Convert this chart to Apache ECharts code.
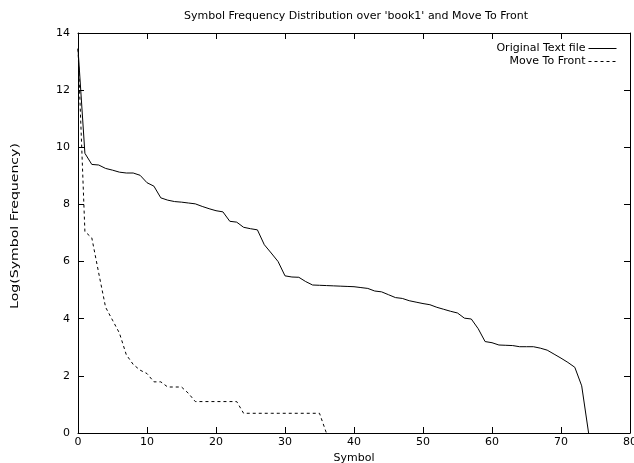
<!DOCTYPE html>
<html>
<head>
<meta charset="utf-8">
<script src="https://cdn.jsdelivr.net/npm/echarts@6/dist/echarts.min.js"></script>
<style>html,body{margin:0;padding:0;background:#fff}#c{width:634px;height:463px}</style>
</head>
<body>
<div id="c"></div>
<script>
var titleText = "Symbol Frequency Distribution over 'book1' and Move To Front";
var xName = "Symbol";
var yName = "Log(Symbol Frequency)";
var seriesNames = ["Original Text file", "Move To Front"];
var xTicks = [0, 10, 20, 30, 40, 50, 60, 70, 80];
var yTicks = [0, 2, 4, 6, 8, 10, 12, 14];

// Log frequency of symbol at rank i (index = symbol rank)
var originalValues = [
  13.45, 9.79, 9.40, 9.38, 9.26, 9.20, 9.13, 9.10, 9.10, 9.02,
  8.76, 8.64, 8.23, 8.15, 8.10, 8.08, 8.05, 8.02, 7.93, 7.85,
  7.78, 7.74, 7.41, 7.38, 7.20, 7.15, 7.11, 6.59, 6.30, 6.00,
  5.50, 5.46, 5.45, 5.30, 5.18, 5.17, 5.16, 5.15, 5.14, 5.13,
  5.12, 5.09, 5.06, 4.97, 4.94, 4.84, 4.74, 4.71, 4.63, 4.58,
  4.53, 4.49, 4.40, 4.33, 4.26, 4.20, 4.02, 3.99, 3.65, 3.20,
  3.16, 3.08, 3.07, 3.06, 3.02, 3.02, 3.02, 2.97, 2.90, 2.76,
  2.62, 2.47, 2.30, 1.65, 0.00
];
var mtfValues = [
  13.45, 7.05, 6.83, 5.60, 4.40, 3.95, 3.50, 2.74, 2.40, 2.20,
  2.08, 1.79, 1.79, 1.61, 1.61, 1.61, 1.39, 1.10, 1.10, 1.10,
  1.10, 1.10, 1.10, 1.10, 0.69, 0.69, 0.69, 0.69, 0.69, 0.69,
  0.69, 0.69, 0.69, 0.69, 0.69, 0.69, 0.00
];

function pairs(vals) { return vals.map(function (v, i) { return [i, v]; }); }

var FONT = "'DejaVu Sans', Verdana, sans-serif";
var FS = 11;
var xMin = xTicks[0], xMax = xTicks[xTicks.length - 1], xInt = xTicks[1] - xTicks[0];
var yMin = yTicks[0], yMax = yTicks[yTicks.length - 1], yInt = yTicks[1] - yTicks[0];

function axisBase(extra) {
  var a = {
    type: 'value',
    axisLine: { show: true, onZero: false, lineStyle: { color: '#000', width: 1 } },
    axisTick: { show: true, inside: true, length: 6, lineStyle: { color: '#000', width: 1 } },
    splitLine: { show: false },
    axisLabel: { color: '#000', fontFamily: FONT, fontSize: FS }
  };
  for (var k in extra) a[k] = extra[k];
  return a;
}

function legendFor(name, top) {
  return {
    data: [name], orient: 'vertical', right: 17, top: top, align: 'right',
    itemWidth: 28, itemHeight: 13, padding: 0,
    itemStyle: { opacity: 0 },
    lineStyle: { width: 1, color: '#000' },
    textStyle: { fontSize: FS, color: '#000', fontFamily: FONT, padding: [0, -2, 0, 0] }
  };
}

var chart = echarts.init(document.getElementById('c'), null, { renderer: 'canvas' });
chart.setOption({
  animation: false,
  backgroundColor: '#fff',
  textStyle: { fontFamily: FONT },
  title: {
    text: titleText,
    left: 351, top: 6,
    textAlign: 'center',
    textStyle: { fontSize: FS, fontWeight: 'normal', color: '#000', fontFamily: FONT }
  },
  grid: { left: 78, right: 4, top: 33, bottom: 30, containLabel: false, outerBoundsMode: 'none' },
  legend: [legendFor(seriesNames[0], 43), legendFor(seriesNames[1], 56)],
  graphic: [{
    type: 'text',
    x: 15, y: 226,
    rotation: Math.PI / 2,
    scaleX: 1.28,
    style: {
      text: yName,
      font: FS + 'px ' + FONT,
      fill: '#000',
      align: 'center',
      verticalAlign: 'middle'
    }
  }],
  xAxis: [
    axisBase({
      position: 'bottom', min: xMin, max: xMax, interval: xInt,
      name: xName, nameLocation: 'middle', nameGap: 16,
      nameTextStyle: { color: '#000', fontSize: FS, fontFamily: FONT },
      axisLabel: { color: '#000', fontFamily: FONT, fontSize: FS, margin: 4 }
    }),
    axisBase({
      position: 'top', min: xMin, max: xMax, interval: xInt,
      axisLabel: { show: false }
    })
  ],
  yAxis: [
    axisBase({
      position: 'left', min: yMin, max: yMax, interval: yInt,
      axisLabel: { color: '#000', fontFamily: FONT, fontSize: FS, margin: 8 }
    }),
    axisBase({
      position: 'right', min: yMin, max: yMax, interval: yInt,
      axisLabel: { show: false }
    })
  ],
  series: [
    {
      name: seriesNames[0], type: 'line', data: pairs(originalValues),
      xAxisIndex: 0, yAxisIndex: 0,
      symbol: 'none', showSymbol: false,
      lineStyle: { color: '#000', width: 1, type: 'solid' },
      itemStyle: { color: '#000' }
    },
    {
      name: seriesNames[1], type: 'line', data: pairs(mtfValues),
      xAxisIndex: 0, yAxisIndex: 0,
      symbol: 'none', showSymbol: false,
      lineStyle: { color: '#000', width: 1, type: [3, 3] },
      itemStyle: { color: '#000' }
    }
  ]
});
</script>
</body>
</html>
